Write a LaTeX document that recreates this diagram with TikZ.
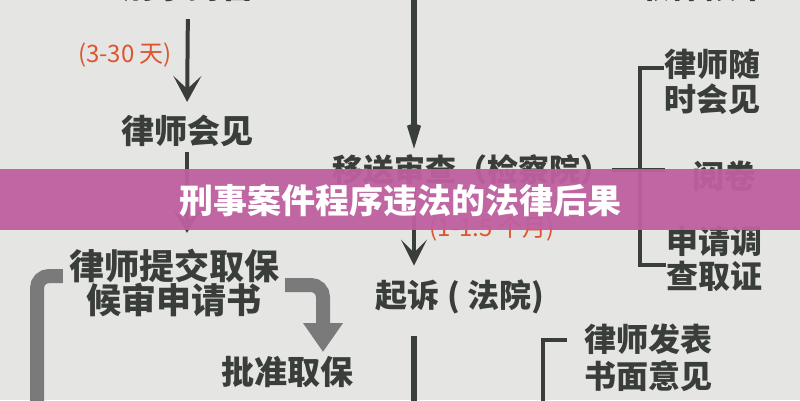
\documentclass[tikz,border=0pt]{standalone}
\usepackage{fontspec}
\newfontfamily\cjk{Noto Sans CJK SC}
\usetikzlibrary{arrows.meta}
\definecolor{bg}{RGB}{229,229,227}
\definecolor{ink}{RGB}{58,62,58}
\definecolor{redn}{RGB}{222,84,48}
\definecolor{gry}{RGB}{122,122,122}
\definecolor{band}{RGB}{190,95,160}
\begin{document}
\begin{tikzpicture}[x=1pt,y=-1pt,
  txt/.style={font=\cjk\bfseries\fontsize{33}{35}\selectfont, text=ink, inner sep=0pt, align=center},
  note/.style={font=\cjk\fontsize{24}{26}\selectfont, text=redn, inner sep=0pt},
  ttl/.style={font=\cjk\bfseries\fontsize{34}{36}\selectfont, text=white, inner sep=0pt},
  ln/.style={draw=ink, line width=4pt},
  bigln/.style={draw=ink, line width=6pt},
  garrow/.style={draw=gry, line width=14pt, rounded corners=12pt}]
\useasboundingbox (0,0) rectangle (800,400);
\clip (0,0) rectangle (800,400);
\fill[bg] (0,0) rectangle (800,400);

% nodes
\node[txt] (xj) at (188,-14) {刑事拘留};
\node[txt] (qb) at (703,-14) {取保候审};
\node[note] (d1) at (125,55) {(3-30 天)};
\node[txt] (hj) at (187,131) {律师会见};
\node[txt, font=\cjk\bfseries\fontsize{31}{35}\selectfont] (ys) at (472,170) {移送审查（检察院）};
\node[note] (d2) at (492,229) {(1-1.5 个月)};
\node[txt, font=\cjk\bfseries\fontsize{32}{35}\selectfont] (qs) at (460,297) {起诉 ( 法院)};
\node[txt, font=\cjk\bfseries\fontsize{32}{35}\selectfont] (sj) at (712,82) {律师随\\时会见};
\node[txt, font=\cjk\bfseries\fontsize{32}{35}\selectfont] (yj) at (724,176) {阅卷};
\node[txt, font=\cjk\bfseries\fontsize{32}{35}\selectfont] (dc) at (714,259) {申请调\\查取证};
\node[txt, font=\cjk\bfseries\fontsize{32}{37}\selectfont] (fb) at (648,358) {律师发表\\书面意见};
\node[txt, font=\cjk\bfseries\fontsize{35}{34}\selectfont] (tj) at (174,283) {律师提交取保\\候审申请书};
\node[txt] (pz) at (287,372) {批准取保};

\coordinate (top) at (414,-30);
\coordinate (bot) at (414,455);

% dark connectors
\draw[ln, -{Stealth[length=26pt,width=28pt,inset=13pt]}, shorten <=17pt, shorten >=13pt]
  (xj.south) -- (hj.north);
\draw[ln, -{Stealth[length=22pt,width=26pt,inset=11pt]}, shorten <=5pt, shorten >=16pt]
  (hj.south) -- (hj.south |- tj.north);
\draw[bigln, -{Stealth[length=65pt,width=40pt,inset=48pt]}, shorten >=6pt]
  (top) -- (top |- ys.north);
\draw[ln, -{Stealth[length=26pt,width=26pt,inset=13pt]}, shorten <=4pt, shorten >=14pt]
  (top |- ys.south) -- (top |- qs.north);
\draw[bigln, -{Stealth[length=65pt,width=56pt,inset=48pt]}, shorten <=22pt]
  (top |- qs.south) -- (bot);

% right brackets
\coordinate (b1t) at (640,68);
\coordinate (b1b) at (640,265);
\draw[ln] (b1t -| sj.west) -- (b1t) -- (b1b) -- (b1b -| dc.west);
\draw[ln] (ys.east) -- (ys.east -| 665,0);
\coordinate (b2t) at (543,340);
\draw[ln] (567,340) -- (b2t) -- (543,410);

% grey arrows
\draw[garrow] ([xshift=-6pt]tj.west |- 0,276) -- (37,276) -- (37,420);
\draw[garrow, -{Triangle[length=29pt,width=38pt]}, rounded corners=12pt]
  ([xshift=6pt]tj.east |- 0,285) -- (323,285) -- (323,352);

% banner
\fill[band, opacity=0.94] (0,169) rectangle (800,230);
\node[ttl] (title) at (400,200) {刑事案件程序违法的法律后果};
\end{tikzpicture}
\end{document}
